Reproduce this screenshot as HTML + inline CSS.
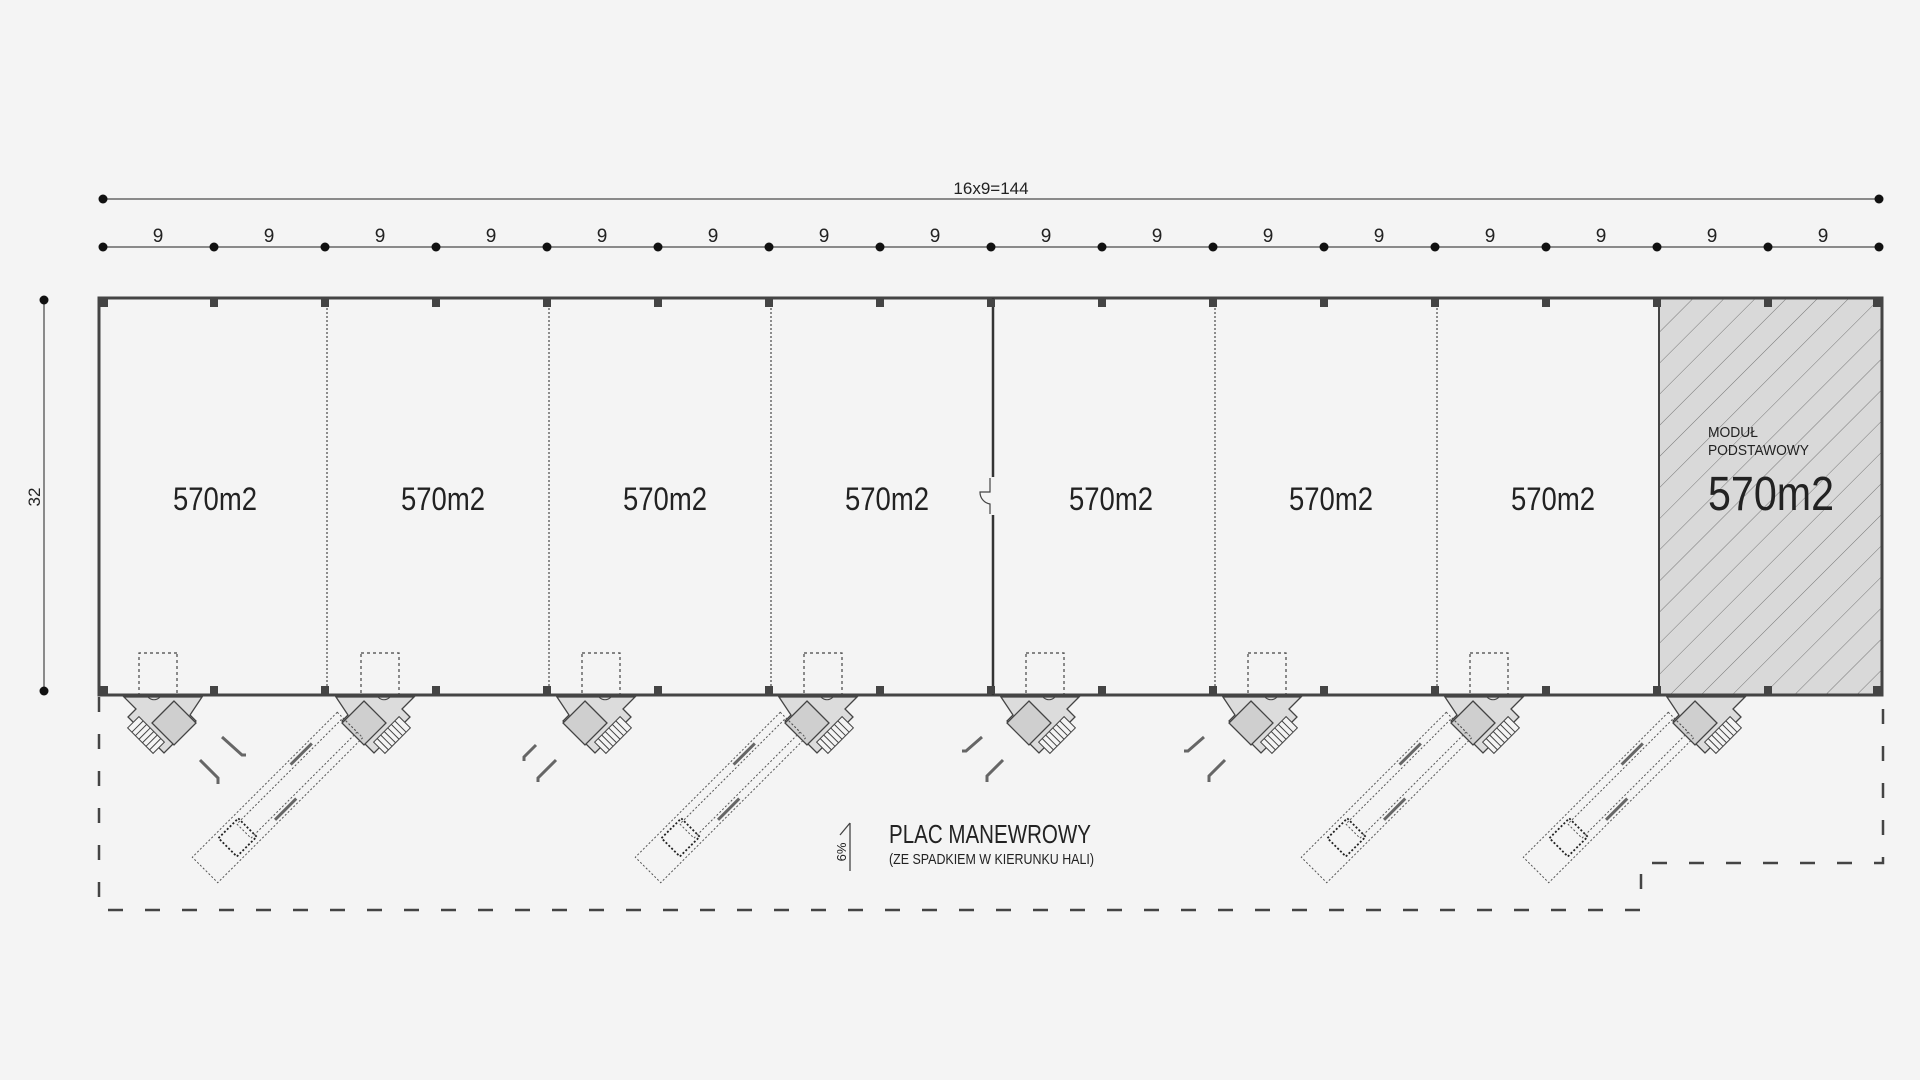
<!DOCTYPE html>
<html><head><meta charset="utf-8"><style>
html,body{margin:0;padding:0;background:#f4f4f4;}
svg{display:block;}
text{font-family:"Liberation Sans",sans-serif;fill:#222;}
</style></head><body>
<svg width="1920" height="1080" viewBox="0 0 1920 1080" xmlns="http://www.w3.org/2000/svg">
<defs>
<pattern id="hatch" patternUnits="userSpaceOnUse" width="22" height="22" patternTransform="rotate(45)">
<rect width="22" height="22" fill="#d9d9d9"/>
<line x1="0" y1="0" x2="0" y2="22" stroke="#777" stroke-width="1"/>
</pattern>
<g id="dock">
<rect x="-19" y="-42" width="38" height="42" fill="none" stroke="#444" stroke-width="1.2" stroke-dasharray="3,3"/>
<polygon points="-44,2 34,2 22,14 30,22 -6,58 -30,34 -38,26 -32,20" fill="#dcdcdc" stroke="#444" stroke-width="1.3"/>
<polygon points="-16,6 6,28 -16,50 -38,28" fill="#cfcfcf" stroke="#444" stroke-width="1.3"/>
<g transform="translate(12,40) rotate(-45)">
<rect x="-18" y="-8" width="36" height="16" fill="#f4f4f4" stroke="#444" stroke-width="1"/>
<path d="M-13,-8V8M-8,-8V8M-3,-8V8M2,-8V8M7,-8V8M12,-8V8" stroke="#444" stroke-width="1"/>
</g>
<path d="M-2,2 a8,8 0 0 0 12,0" fill="none" stroke="#444" stroke-width="1"/>
</g>
<g id="dockm">
<use href="#dock" transform="scale(-1,1)"/>
</g>
<g id="truck">
<rect x="-18" y="0" width="36" height="205" fill="none" stroke="#555" stroke-width="1" stroke-dasharray="2,2"/>
<rect x="-10" y="0" width="20" height="150" fill="none" stroke="#555" stroke-width="1" stroke-dasharray="2,2"/>
<rect x="-13" y="145" width="26" height="28" fill="none" stroke="#222" stroke-width="1.8" stroke-dasharray="2,2"/>
<line x1="-14" y1="40" x2="-14" y2="70" stroke="#666" stroke-width="3"/>
<line x1="14" y1="90" x2="14" y2="120" stroke="#666" stroke-width="3"/>
</g>
</defs>

<!-- dimension lines -->
<line x1="103" y1="199" x2="1879" y2="199" stroke="#666" stroke-width="1.5"/>
<circle cx="103" cy="199" r="4.5" fill="#111"/><circle cx="1879" cy="199" r="4.5" fill="#111"/>
<text x="991" y="194" font-size="17" text-anchor="middle">16x9=144</text>
<line x1="103" y1="247" x2="1879" y2="247" stroke="#666" stroke-width="1.5"/>
<g fill="#111">
<circle cx="103" cy="247" r="4.5"/><circle cx="214" cy="247" r="4.5"/><circle cx="325" cy="247" r="4.5"/><circle cx="436" cy="247" r="4.5"/><circle cx="547" cy="247" r="4.5"/><circle cx="658" cy="247" r="4.5"/><circle cx="769" cy="247" r="4.5"/><circle cx="880" cy="247" r="4.5"/><circle cx="991" cy="247" r="4.5"/><circle cx="1102" cy="247" r="4.5"/><circle cx="1213" cy="247" r="4.5"/><circle cx="1324" cy="247" r="4.5"/><circle cx="1435" cy="247" r="4.5"/><circle cx="1546" cy="247" r="4.5"/><circle cx="1657" cy="247" r="4.5"/><circle cx="1768" cy="247" r="4.5"/><circle cx="1879" cy="247" r="4.5"/>
</g>
<g font-size="19" text-anchor="middle">
<text x="158" y="242">9</text><text x="269" y="242">9</text><text x="380" y="242">9</text><text x="491" y="242">9</text><text x="602" y="242">9</text><text x="713" y="242">9</text><text x="824" y="242">9</text><text x="935" y="242">9</text><text x="1046" y="242">9</text><text x="1157" y="242">9</text><text x="1268" y="242">9</text><text x="1379" y="242">9</text><text x="1490" y="242">9</text><text x="1601" y="242">9</text><text x="1712" y="242">9</text><text x="1823" y="242">9</text>
</g>
<!-- vertical dim -->
<line x1="44" y1="300" x2="44" y2="691" stroke="#666" stroke-width="1.5"/>
<circle cx="44" cy="300" r="4.5" fill="#111"/><circle cx="44" cy="691" r="4.5" fill="#111"/>
<text transform="translate(40,497) rotate(-90)" font-size="17" text-anchor="middle">32</text>

<!-- hatched module -->
<rect x="1659" y="298" width="223" height="397" fill="url(#hatch)"/>
<!-- building -->
<rect x="99" y="298" width="1783" height="397" fill="none" stroke="#444" stroke-width="3"/>
<g stroke="#555" stroke-width="1.3" stroke-dasharray="2,2">
<line x1="327" y1="300" x2="327" y2="693"/><line x1="549" y1="300" x2="549" y2="693"/><line x1="771" y1="300" x2="771" y2="693"/>
<line x1="1215" y1="300" x2="1215" y2="693"/><line x1="1437" y1="300" x2="1437" y2="693"/>
</g>
<line x1="993" y1="298" x2="993" y2="477" stroke="#333" stroke-width="2.5"/>
<line x1="993" y1="515" x2="993" y2="695" stroke="#333" stroke-width="2.5"/>
<path d="M990,478v14h-10a12,12 0 0 0 10,12v10" fill="none" stroke="#444" stroke-width="1.2"/>
<line x1="1659" y1="298" x2="1659" y2="695" stroke="#444" stroke-width="2"/>
<!-- columns -->
<g fill="#444">
<rect x="100" y="299" width="8" height="8"/><rect x="210" y="299" width="8" height="8"/><rect x="321" y="299" width="8" height="8"/><rect x="432" y="299" width="8" height="8"/><rect x="543" y="299" width="8" height="8"/><rect x="654" y="299" width="8" height="8"/><rect x="765" y="299" width="8" height="8"/><rect x="876" y="299" width="8" height="8"/><rect x="987" y="299" width="8" height="8"/><rect x="1098" y="299" width="8" height="8"/><rect x="1209" y="299" width="8" height="8"/><rect x="1320" y="299" width="8" height="8"/><rect x="1431" y="299" width="8" height="8"/><rect x="1542" y="299" width="8" height="8"/><rect x="1653" y="299" width="8" height="8"/><rect x="1764" y="299" width="8" height="8"/><rect x="1873" y="299" width="8" height="8"/>
<rect x="100" y="686" width="8" height="8"/><rect x="210" y="686" width="8" height="8"/><rect x="321" y="686" width="8" height="8"/><rect x="432" y="686" width="8" height="8"/><rect x="543" y="686" width="8" height="8"/><rect x="654" y="686" width="8" height="8"/><rect x="765" y="686" width="8" height="8"/><rect x="876" y="686" width="8" height="8"/><rect x="987" y="686" width="8" height="8"/><rect x="1098" y="686" width="8" height="8"/><rect x="1209" y="686" width="8" height="8"/><rect x="1320" y="686" width="8" height="8"/><rect x="1431" y="686" width="8" height="8"/><rect x="1542" y="686" width="8" height="8"/><rect x="1653" y="686" width="8" height="8"/><rect x="1764" y="686" width="8" height="8"/><rect x="1873" y="686" width="8" height="8"/>
</g>
<!-- labels -->
<g font-size="32" text-anchor="middle">
<text x="215" y="510" textLength="84" lengthAdjust="spacingAndGlyphs">570m2</text>
<text x="443" y="510" textLength="84" lengthAdjust="spacingAndGlyphs">570m2</text>
<text x="665" y="510" textLength="84" lengthAdjust="spacingAndGlyphs">570m2</text>
<text x="887" y="510" textLength="84" lengthAdjust="spacingAndGlyphs">570m2</text>
<text x="1111" y="510" textLength="84" lengthAdjust="spacingAndGlyphs">570m2</text>
<text x="1331" y="510" textLength="84" lengthAdjust="spacingAndGlyphs">570m2</text>
<text x="1553" y="510" textLength="84" lengthAdjust="spacingAndGlyphs">570m2</text>
</g>
<text x="1708" y="437" font-size="15" textLength="50" lengthAdjust="spacingAndGlyphs">MODUŁ</text>
<text x="1708" y="455" font-size="15" textLength="101" lengthAdjust="spacingAndGlyphs">PODSTAWOWY</text>
<text x="1708" y="510" font-size="48" textLength="126" lengthAdjust="spacingAndGlyphs" fill="#333">570m2</text>

<!-- docks -->
<use href="#dockm" x="158" y="695"/>
<use href="#dock" x="380" y="695"/>
<use href="#dock" x="601" y="695"/>
<use href="#dock" x="823" y="695"/>
<use href="#dock" x="1045" y="695"/>
<use href="#dock" x="1267" y="695"/>
<use href="#dock" x="1489" y="695"/>
<g transform="translate(1711,695)">
<polygon points="-44,2 34,2 22,14 30,22 -6,58 -30,34 -38,26 -32,20" fill="#dcdcdc" stroke="#444" stroke-width="1.3"/>
<polygon points="-16,6 6,28 -16,50 -38,28" fill="#cfcfcf" stroke="#444" stroke-width="1.3"/>
<g transform="translate(12,40) rotate(-45)"><rect x="-18" y="-8" width="36" height="16" fill="#f4f4f4" stroke="#444"/><path d="M-13,-8V8M-8,-8V8M-3,-8V8M2,-8V8M7,-8V8M12,-8V8" stroke="#444"/></g>
</g>
<!-- trucks -->
<use href="#truck" transform="translate(350,725) rotate(45)"/>
<use href="#truck" transform="translate(793,725) rotate(45)"/>
<use href="#truck" transform="translate(1459,725) rotate(45)"/>
<use href="#truck" transform="translate(1681,725) rotate(45)"/>
<!-- curb marks -->
<g stroke="#666" stroke-width="3" fill="none">
<path d="M222,737l20,18h4"/><path d="M200,760l18,18v6"/>
<path d="M536,745l-12,12v4"/><path d="M556,760l-18,18v4"/>
<path d="M982,737l-16,14h-4"/><path d="M1003,760l-16,16v6"/>
<path d="M1204,737l-16,14h-4"/><path d="M1225,760l-16,16v6"/>
</g>
<!-- dashed boundary -->
<path d="M99,697V910H1641V863H1883V697" fill="none" stroke="#444" stroke-width="2.5" stroke-dasharray="15,22"/>
<!-- text -->
<text x="889" y="843" font-size="26" textLength="202" lengthAdjust="spacingAndGlyphs" fill="#333">PLAC MANEWROWY</text>
<text x="889" y="864" font-size="15" textLength="205" lengthAdjust="spacingAndGlyphs" fill="#333">(ZE SPADKIEM W KIERUNKU HALI)</text>
<line x1="850" y1="823" x2="850" y2="871" stroke="#444" stroke-width="1.3"/>
<line x1="850" y1="823" x2="840" y2="835" stroke="#444" stroke-width="1.3"/>
<text transform="translate(846,852) rotate(-90)" font-size="13" text-anchor="middle">6%</text>
</svg>
</body></html>
